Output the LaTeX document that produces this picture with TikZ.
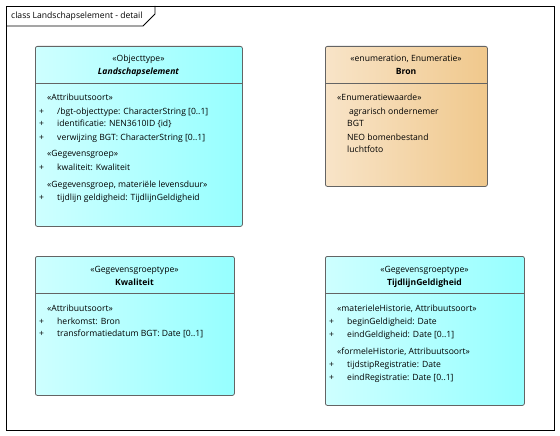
\documentclass[tikz,border=0pt]{standalone}
\usepackage{fontspec}
\setmainfont{Open Sans}
\usetikzlibrary{calc}
\definecolor{cyanL}{RGB}{206,255,255}
\definecolor{cyanR}{RGB}{150,255,255}
\definecolor{bronL}{RGB}{248,228,200}
\definecolor{bronR}{RGB}{240,200,140}
\definecolor{edge}{RGB}{100,100,100}
\tikzset{
  cls/.style={draw=edge, line width=0.8pt, rounded corners=2pt, anchor=north west, inner sep=0pt, shading angle=90},
  cyanbox/.style={cls, left color=cyanL, right color=cyanR},
  bronbox/.style={cls, left color=bronL, right color=bronR},
  txt/.style={anchor=base west, inner sep=0pt, font=\fontsize{8.6}{10}\selectfont},
  ctxt/.style={anchor=base, inner sep=0pt, font=\fontsize{8.6}{10}\selectfont},
  sep/.style={draw=edge, line width=0.8pt}
}
\begin{document}
\begin{tikzpicture}[x=1pt, y=-1pt]
\useasboundingbox (0,0) rectangle (560,436);
% frame
\draw[line width=0.9pt] (6,6) rectangle (554,430);
\draw[line width=0.9pt] (6,26) -- (143,26) -- (155,14) -- (155,6);
\node[txt] (title) at (11,19) {class Landschapselement - detail};

% Landschapselement
\node[cyanbox, minimum width=207pt, minimum height=180pt] (ls) at (35,46) {};
\draw[sep] ([yshift=-37pt]ls.north west) -- ([yshift=-37pt]ls.north east);
\node[ctxt] (ls1) at (138.5,62) {«Objecttype»};
\node[ctxt] (ls2) at (138.5,75) {\bfseries\itshape Landschapselement};
\node[txt] (ls3) at (47,101) {«Attribuutsoort»};
\node[txt] (ls4p) at (39,114) {+};
\node[txt] (ls4) at (57,114) {/bgt-objecttype: CharacterString [0..1]};
\node[txt] (ls5p) at (39,127) {+};
\node[txt] (ls5) at (57,127) {identificatie: NEN3610ID \{id\}};
\node[txt] (ls6p) at (39,140) {+};
\node[txt] (ls6) at (57,140) {verwijzing BGT: CharacterString [0..1]};
\node[txt] (ls7) at (47,157) {«Gegevensgroep»};
\node[txt] (ls8p) at (39,170) {+};
\node[txt] (ls8) at (57,170) {kwaliteit: Kwaliteit};
\node[txt] (ls9) at (47,187) {«Gegevensgroep, materiële levensduur»};
\node[txt] (ls10p) at (39,200) {+};
\node[txt] (ls10) at (57,200) {tijdlijn geldigheid: TijdlijnGeldigheid};

% Bron
\node[bronbox, minimum width=162pt, minimum height=140pt] (br) at (325,46) {};
\draw[sep] ([yshift=-37pt]br.north west) -- ([yshift=-37pt]br.north east);
\node[ctxt] (br1) at (406,62) {«enumeration, Enumeratie»};
\node[ctxt] (br2) at (406,75) {\bfseries Bron};
\node[txt] (br3) at (337,101) {«Enumeratiewaarde»};
\node[txt] (br4) at (349,114) {agrarisch ondernemer};
\node[txt] (br5) at (347,127) {BGT};
\node[txt] (br6) at (347,140) {NEO bomenbestand};
\node[txt] (br7) at (347,152) {luchtfoto};

% Kwaliteit
\node[cyanbox, minimum width=199pt, minimum height=139pt] (kw) at (35,256) {};
\draw[sep] ([yshift=-37pt]kw.north west) -- ([yshift=-37pt]kw.north east);
\node[ctxt] (kw1) at (134.5,272) {«Gegevensgroeptype»};
\node[ctxt] (kw2) at (134.5,285) {\bfseries Kwaliteit};
\node[txt] (kw3) at (47,311) {«Attribuutsoort»};
\node[txt] (kw4p) at (39,324) {+};
\node[txt] (kw4) at (57,324) {herkomst: Bron};
\node[txt] (kw5p) at (39,336) {+};
\node[txt] (kw5) at (57,336) {transformatiedatum BGT: Date [0..1]};

% TijdlijnGeldigheid
\node[cyanbox, minimum width=199pt, minimum height=149pt] (tg) at (325,256) {};
\draw[sep] ([yshift=-37pt]tg.north west) -- ([yshift=-37pt]tg.north east);
\node[ctxt] (tg1) at (424.5,272) {«Gegevensgroeptype»};
\node[ctxt] (tg2) at (424.5,285) {\bfseries TijdlijnGeldigheid};
\node[txt] (tg3) at (337,311) {«materieleHistorie, Attribuutsoort»};
\node[txt] (tg4p) at (329,324) {+};
\node[txt] (tg4) at (347,324) {beginGeldigheid: Date};
\node[txt] (tg5p) at (329,337) {+};
\node[txt] (tg5) at (347,337) {eindGeldigheid: Date [0..1]};
\node[txt] (tg6) at (337,354) {«formeleHistorie, Attribuutsoort»};
\node[txt] (tg7p) at (329,367) {+};
\node[txt] (tg7) at (347,367) {tijdstipRegistratie: Date};
\node[txt] (tg8p) at (329,380) {+};
\node[txt] (tg8) at (347,380) {eindRegistratie: Date [0..1]};
\end{tikzpicture}
\end{document}
